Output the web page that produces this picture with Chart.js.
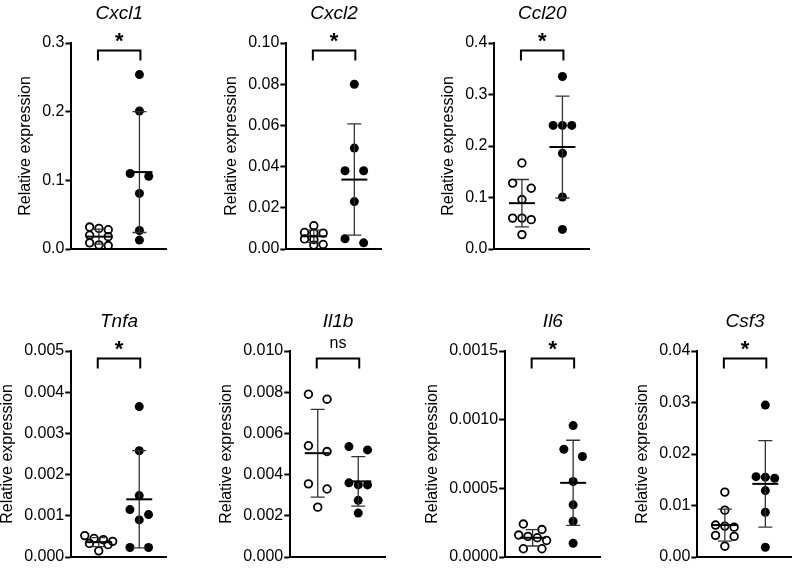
<!DOCTYPE html>
<html><head><meta charset="utf-8">
<script src="https://cdn.jsdelivr.net/npm/chart.js@4.4.1/dist/chart.umd.min.js"></script>
<style>
html,body{margin:0;padding:0;background:#fff;}
body{width:792px;height:568px;overflow:hidden;position:relative;}
canvas{position:absolute;}
</style></head><body>
<script>
// ---------- data ----------
const genes = ['Cxcl1','Cxcl2','Ccl20','Tnfa','Il1b','Il6','Csf3'];
const groups = ['Control','Treated'];
const significance = ['*','*','*','*','ns','*','*'];

const cxcl1Control = [0.032, 0.030, 0.028, 0.020, 0.018, 0.009, 0.006, 0.005];
const cxcl1Treated = [0.254, 0.201, 0.110, 0.106, 0.081, 0.027, 0.013];
const cxcl1Mean = [0.018, 0.112];
const cxcl1SD = [0.011, 0.088];
const cxcl1Ticks = ['0.0','0.1','0.2','0.3'];

const cxcl2Control = [0.0113, 0.0080, 0.0078, 0.0077, 0.0049, 0.0046, 0.0022, 0.0019];
const cxcl2Treated = [0.080, 0.049, 0.038, 0.038, 0.023, 0.005, 0.003];
const cxcl2Mean = [0.0062, 0.0337];
const cxcl2SD = [0.003, 0.027];
const cxcl2Ticks = ['0.00','0.02','0.04','0.06','0.08','0.10'];

const ccl20Control = [0.167, 0.128, 0.118, 0.096, 0.060, 0.060, 0.057, 0.028];
const ccl20Treated = [0.335, 0.240, 0.240, 0.240, 0.186, 0.101, 0.038];
const ccl20Mean = [0.089, 0.198];
const ccl20SD = [0.046, 0.099];
const ccl20Ticks = ['0.0','0.1','0.2','0.3','0.4'];

const tnfaControl = [0.00052, 0.00045, 0.00042, 0.00038, 0.00033, 0.00030, 0.00015];
const tnfaTreated = [0.00365, 0.00258, 0.00149, 0.00115, 0.00103, 0.00090, 0.00023, 0.00023];
const tnfaMean = [0.00036, 0.00140];
const tnfaSD = [0.00011, 0.00118];
const tnfaTicks = ['0.000','0.001','0.002','0.003','0.004','0.005'];

const il1bControl = [0.0079, 0.00766, 0.0054, 0.00512, 0.00355, 0.0033, 0.00242];
const il1bTreated = [0.00536, 0.0052, 0.0036, 0.0035, 0.0035, 0.00275, 0.00213];
const il1bMean = [0.00504, 0.00367];
const il1bSD = [0.00213, 0.0012];
const il1bTicks = ['0.000','0.002','0.004','0.006','0.008','0.010'];

const il6Control = [0.00024, 0.00020, 0.00016, 0.00015, 0.00014, 0.00012, 0.00006, 0.00006];
const il6Treated = [0.000957, 0.000785, 0.000732, 0.00055, 0.00038, 0.00026, 0.00010];
const il6Mean = [0.00014, 0.00054];
const il6SD = [0.00006, 0.00031];
const il6Ticks = ['0.0000','0.0005','0.0010','0.0015'];

const csf3Control = [0.0126, 0.0091, 0.0062, 0.0060, 0.0058, 0.0042, 0.0040, 0.0021];
const csf3Treated = [0.0295, 0.0156, 0.0155, 0.0153, 0.0129, 0.0087, 0.0019];
const csf3Mean = [0.0062, 0.0142];
const csf3SD = [0.0031, 0.0084];
const csf3Ticks = ['0.00','0.01','0.02','0.03','0.04'];

// ---------- layout / style ----------
const FONT = "'Liberation Sans', Arial, Helvetica, sans-serif";
const PLOT_W = 95, PLOT_H = 206;
const G1_PX = 27.5, G2_PX = 68;
const UNIT = G2_PX - G1_PX;
const XMIN = -G1_PX / UNIT, XMAX = (PLOT_W - G1_PX) / UNIT;
const CW = 230, CH = 290, PAD_TOP = 48;
const ROW_GAP = 6, DIAM = 9, SPACING = 9.3;

const panels = [
  {gene: genes[0], ctrl: cxcl1Control, trt: cxcl1Treated, mean: cxcl1Mean, sd: cxcl1SD, ticks: cxcl1Ticks, sig: significance[0]},
  {gene: genes[1], ctrl: cxcl2Control, trt: cxcl2Treated, mean: cxcl2Mean, sd: cxcl2SD, ticks: cxcl2Ticks, sig: significance[1]},
  {gene: genes[2], ctrl: ccl20Control, trt: ccl20Treated, mean: ccl20Mean, sd: ccl20SD, ticks: ccl20Ticks, sig: significance[2]},
  {gene: genes[3], ctrl: tnfaControl, trt: tnfaTreated, mean: tnfaMean, sd: tnfaSD, ticks: tnfaTicks, sig: significance[3]},
  {gene: genes[4], ctrl: il1bControl, trt: il1bTreated, mean: il1bMean, sd: il1bSD, ticks: il1bTicks, sig: significance[4]},
  {gene: genes[5], ctrl: il6Control, trt: il6Treated, mean: il6Mean, sd: il6SD, ticks: il6Ticks, sig: significance[5]},
  {gene: genes[6], ctrl: csf3Control, trt: csf3Treated, mean: csf3Mean, sd: csf3SD, ticks: csf3Ticks, sig: significance[6]}
];
const panelAxisX = [71, 286.7, 494.3, 71, 290, 505, 697.3];
const panelTop = [43.3, 43.3, 43.3, 351, 351, 351, 351];

function swarmOffsets(values, yScale) {
  const order = values.map((v, i) => i).sort((a, b) => values[b] - values[a]);
  const rows = [];
  order.forEach(i => {
    const py = yScale.getPixelForValue(values[i]);
    const last = rows[rows.length - 1];
    if (last && py - last.start < ROW_GAP) last.items.push(i);
    else rows.push({start: py, items: [i]});
  });
  for (let r = rows.length - 1; r > 0; r--) {
    const a = rows[r - 1], b = rows[r];
    if (a.items.length === 1 && b.items.length === 1 && b.start - a.start < DIAM) {
      a.items.push(b.items[0]); rows.splice(r, 1);
    }
  }
  const off = new Array(values.length).fill(0);
  rows.forEach(r => {
    const n = r.items.length;
    r.items.forEach((it, k) => {
      off[it] = n === 2 ? (k === 0 ? -1 : 1) * SPACING : (k - (n - 1) / 2) * SPACING;
    });
  });
  return off;
}

function makeDecor(spec) {
  return {
    id: 'decor',
    afterDatasetsDraw(chart) {
      const ctx = chart.ctx, ca = chart.chartArea;
      const xs = chart.scales.x, ys = chart.scales.y;
      if (!ca || !xs || !ys) return;
      ctx.save();
      [0, 1].forEach(g => {
        const x = xs.getPixelForValue(g);
        const m = spec.mean[g], s = spec.sd[g];
        const yT = ys.getPixelForValue(m + s);
        const yB = ys.getPixelForValue(Math.max(0, m - s));
        const yM = ys.getPixelForValue(m);
        ctx.strokeStyle = '#333';
        ctx.lineWidth = 1.3;
        ctx.beginPath();
        ctx.moveTo(x, yT); ctx.lineTo(x, yB);
        ctx.moveTo(x - 7, yT); ctx.lineTo(x + 7, yT);
        ctx.moveTo(x - 7, yB); ctx.lineTo(x + 7, yB);
        ctx.stroke();
        ctx.strokeStyle = '#000';
        ctx.lineWidth = 2;
        ctx.beginPath();
        ctx.moveTo(x - 13, yM); ctx.lineTo(x + 13, yM);
        ctx.stroke();
      });
      const x1 = xs.getPixelForValue(0), x2 = xs.getPixelForValue(1);
      ctx.strokeStyle = '#000';
      ctx.lineWidth = 2;
      ctx.lineJoin = 'miter';
      ctx.beginPath();
      ctx.moveTo(x1 - 1, ca.top + 17.5);
      ctx.lineTo(x1 - 1, ca.top + 7.5);
      ctx.lineTo(x2 + 1, ca.top + 7.5);
      ctx.lineTo(x2 + 1, ca.top + 17.5);
      ctx.stroke();
      ctx.fillStyle = '#000';
      ctx.textAlign = 'center';
      ctx.textBaseline = 'alphabetic';
      if (spec.sig === '*') {
        ctx.font = 'bold 22px ' + FONT;
        ctx.fillText(spec.sig, (x1 + x2) / 2, ca.top + 5);
      } else {
        ctx.font = '16px ' + FONT;
        ctx.fillText(spec.sig, (x1 + x2) / 2, ca.top - 3);
      }
      ctx.font = 'italic 19px ' + FONT;
      ctx.fillText(spec.gene, (x1 + x2) / 2, ca.top - 24.5);
      ctx.restore();
    }
  };
}

panels.forEach((spec, i) => {
  const cv = document.createElement('canvas');
  cv.width = CW; cv.height = CH;
  cv.style.width = CW + 'px'; cv.style.height = CH + 'px';
  document.body.appendChild(cv);
  const tickVals = spec.ticks.map(parseFloat);
  const yMax = tickVals[tickVals.length - 1];
  const chart = new Chart(cv, {
    type: 'scatter',
    data: {datasets: [
      {label: groups[0], data: spec.ctrl.map(v => ({x: 0, y: v})),
       pointRadius: 3.8, pointBorderWidth: 1.8, pointBorderColor: '#000',
       pointBackgroundColor: 'rgba(0,0,0,0)', pointHoverRadius: 3.8},
      {label: groups[1], data: spec.trt.map(v => ({x: 1, y: v})),
       pointRadius: 4.5, pointBorderWidth: 0, pointBorderColor: '#000',
       pointBackgroundColor: '#000', pointHoverRadius: 4.5}
    ]},
    options: {
      responsive: false, animation: false, devicePixelRatio: 1,
      events: [],
      layout: {padding: {left: 0, right: 10, top: PAD_TOP, bottom: 10}},
      plugins: {legend: {display: false}, tooltip: {enabled: false}},
      scales: {
        x: {type: 'linear', min: XMIN, max: XMAX,
            ticks: {display: false}, grid: {display: false},
            border: {display: true, color: '#000', width: 2}},
        y: {type: 'linear', min: 0, max: yMax,
            afterBuildTicks: s => { s.ticks = tickVals.map(v => ({value: v})); },
            ticks: {callback: (v, idx) => spec.ticks[idx], font: {family: FONT, size: 16},
                    color: '#000', padding: 1},
            grid: {display: true, drawOnChartArea: false, drawTicks: true, tickLength: 6,
                   tickWidth: 2, tickColor: '#000'},
            border: {display: true, color: '#000', width: 2},
            title: {display: true, text: 'Relative expression', color: '#000',
                    font: {family: FONT, size: 16}, padding: {top: 2, bottom: 6}}}
      }
    },
    plugins: [makeDecor(spec)]
  });
  let ca = chart.chartArea;
  chart.options.layout.padding.right += (ca.right - ca.left) - PLOT_W;
  chart.options.layout.padding.bottom += (ca.bottom - ca.top) - PLOT_H;
  chart.update();
  const xs = chart.scales.x, ys = chart.scales.y;
  [spec.ctrl, spec.trt].forEach((vals, g) => {
    const off = swarmOffsets(vals, ys);
    const cx = xs.getPixelForValue(g);
    chart.data.datasets[g].data = vals.map((v, k) => ({x: xs.getValueForPixel(cx + off[k]), y: v}));
  });
  chart.update();
  ca = chart.chartArea;
  cv.style.left = Math.round(panelAxisX[i] - ca.left) + 'px';
  cv.style.top = Math.round(panelTop[i] - ca.top) + 'px';
});
</script>
</body></html>
